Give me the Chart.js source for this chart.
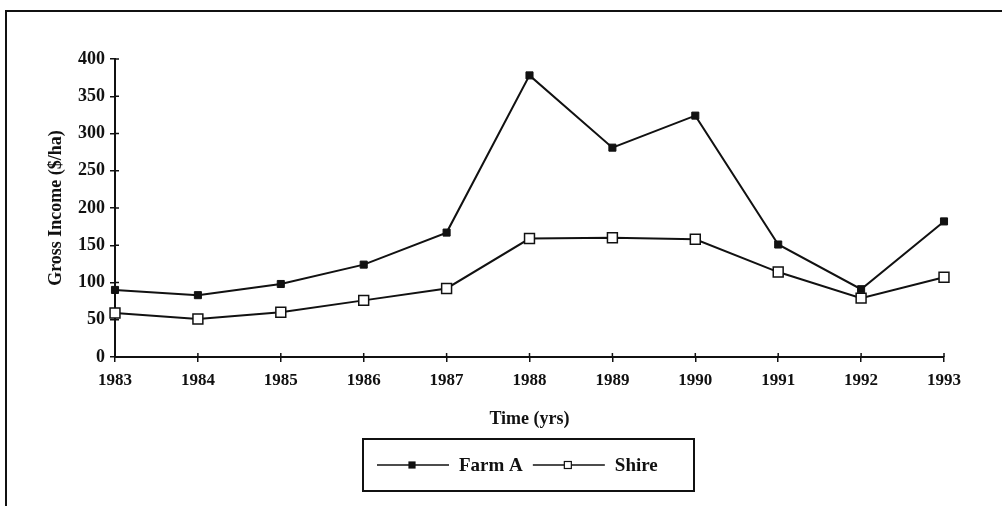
<!DOCTYPE html>
<html>
<head>
<meta charset="utf-8">
<script src="https://cdn.jsdelivr.net/npm/chart.js@4.4.1/dist/chart.umd.min.js"></script>
<style>
  html, body { margin: 0; padding: 0; background: #fff; }
  #wrap { width: 1002px; height: 506px; }
</style>
</head>
<body>
<div id="wrap"><canvas id="incomeChart" width="1002" height="506"></canvas></div>
<script>
// data
const years = ['1983', '1984', '1985', '1986', '1987', '1988', '1989', '1990', '1991', '1992', '1993'];
const farmA = [90, 83, 98, 124, 167, 378, 281, 324, 151, 91, 182];
const shire = [59, 51, 60, 76, 92, 159, 160, 158, 114, 79, 107];
const yTicks = [0, 50, 100, 150, 200, 250, 300, 350, 400];

const ink = '#111';
const serif = '"Liberation Serif", "Times New Roman", serif';

// page frame + ticks that cross the axes
const framePlugin = {
    id: 'frame',
    beforeDraw(chart) {
        const ctx = chart.ctx;
        ctx.save();
        ctx.fillStyle = '#fff';
        ctx.fillRect(0, 0, chart.width, chart.height);
        ctx.strokeStyle = ink;
        ctx.lineWidth = 2;
        ctx.beginPath();
        ctx.moveTo(6, chart.height);
        ctx.lineTo(6, 11);
        ctx.lineTo(chart.width, 11);
        ctx.stroke();
        ctx.restore();
    },
    afterDatasetsDraw(chart) {
        const ctx = chart.ctx;
        const x = chart.scales.x, y = chart.scales.y;
        ctx.save();
        ctx.strokeStyle = ink;
        ctx.lineWidth = 1.5;
        ctx.beginPath();
        years.forEach((yr, i) => {
            const px = x.getPixelForValue(i);
            ctx.moveTo(px, y.bottom - 4);
            ctx.lineTo(px, y.bottom);
        });
        yTicks.forEach(v => {
            const py = y.getPixelForValue(v);
            ctx.moveTo(x.left, py);
            ctx.lineTo(x.left + 4, py);
        });
        ctx.stroke();
        ctx.restore();
    }
};

// boxed legend under the x title
const legendBox = {
    id: 'legendBox',
    afterDraw(chart) {
        const ctx = chart.ctx;
        const left = 363, top = 439, w = 331, h = 52;
        const cy = top + h / 2;
        ctx.save();
        ctx.strokeStyle = ink;
        ctx.lineWidth = 2;
        ctx.strokeRect(left, top, w, h);
        ctx.font = 'bold 19px ' + serif;
        ctx.textBaseline = 'middle';
        let cx = left + 14;
        chart.data.datasets.forEach(ds => {
            ctx.lineWidth = 1.5;
            ctx.beginPath();
            ctx.moveTo(cx, cy);
            ctx.lineTo(cx + 72, cy);
            ctx.stroke();
            const m = ds.label === 'Farm A' ? 6 : 7;
            ctx.fillStyle = ds.pointBackgroundColor;
            ctx.fillRect(cx + 35 - m / 2, cy - m / 2, m, m);
            ctx.lineWidth = 1.2;
            ctx.strokeRect(cx + 35 - m / 2, cy - m / 2, m, m);
            ctx.fillStyle = ink;
            ctx.fillText(ds.label, cx + 82, cy + 1);
            cx += 82 + ctx.measureText(ds.label).width + 10;
        });
        ctx.restore();
    }
};

const ctx = document.getElementById('incomeChart').getContext('2d');
const incomeChart = new Chart(ctx, {
    type: 'line',
    data: {
        labels: years,
        datasets: [{
            label: 'Farm A',
            data: farmA,
            borderColor: ink,
            borderWidth: 2,
            pointStyle: 'rect',
            pointRadius: 5,
            pointBackgroundColor: ink,
            pointBorderColor: ink,
            pointBorderWidth: 1,
            tension: 0
        }, {
            label: 'Shire',
            data: shire,
            borderColor: ink,
            borderWidth: 2,
            pointStyle: 'rect',
            pointRadius: 7,
            pointBackgroundColor: '#fff',
            pointBorderColor: ink,
            pointBorderWidth: 1.5,
            tension: 0
        }]
    },
    options: {
        responsive: false,
        animation: false,
        clip: false,
        layout: { padding: { left: 46, top: 59, right: 58, bottom: 76 } },
        plugins: {
            legend: { display: false },
            tooltip: { enabled: false }
        },
        scales: {
            x: {
                offset: false,
                afterFit: s => { s.height = 73; },
                grid: { display: true, drawOnChartArea: false, tickLength: 5, color: ink, lineWidth: 1.5 },
                border: { display: true, color: ink, width: 2 },
                ticks: { color: ink, font: { family: serif, size: 17, weight: 'bold' }, padding: 8, maxRotation: 0 },
                title: { display: true, text: 'Time (yrs)', color: ink, font: { family: serif, size: 18, weight: 'bold' }, padding: 0 }
            },
            y: {
                min: 0,
                max: 400,
                afterFit: s => { s.width = 69; },
                afterBuildTicks: s => { s.ticks = yTicks.map(v => ({ value: v })); },
                grid: { display: true, drawOnChartArea: false, tickLength: 5, color: ink, lineWidth: 1.5 },
                border: { display: true, color: ink, width: 2 },
                ticks: { color: ink, font: { family: serif, size: 18, weight: 'bold' }, padding: 5 },
                title: { display: true, text: 'Gross Income ($/ha)', color: ink, font: { family: serif, size: 18, weight: 'bold' }, padding: 0 }
            }
        }
    },
    plugins: [framePlugin, legendBox]
});
</script>
</body>
</html>
